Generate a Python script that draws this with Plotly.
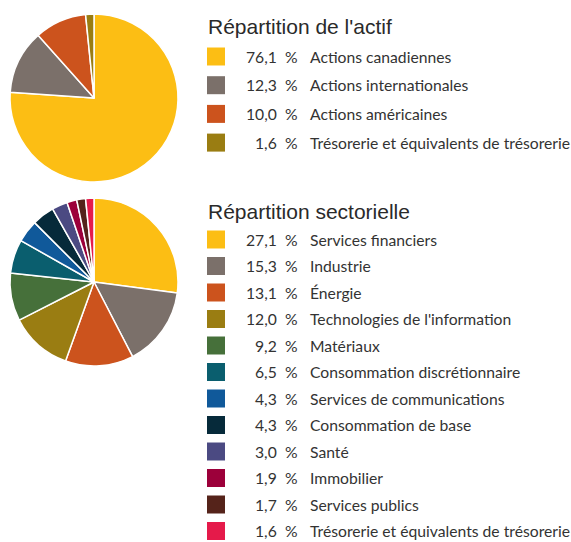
import plotly.graph_objects as go

# ---- data ----
actif_title = "Répartition de l'actif"
actif_labels = ["Actions canadiennes", "Actions internationales",
                "Actions américaines", "Trésorerie et équivalents de trésorerie"]
actif_values = [76.1, 12.3, 10.0, 1.6]
actif_colors = ["#FCBE14", "#7B706A", "#CC531D", "#9A7D12"]

secteur_title = "Répartition sectorielle"
secteur_labels = ["Services financiers", "Industrie", "Énergie",
                  "Technologies de l'information", "Matériaux",
                  "Consommation discrétionnaire", "Services de communications",
                  "Consommation de base", "Santé", "Immobilier",
                  "Services publics", "Trésorerie et équivalents de trésorerie"]
secteur_values = [27.1, 15.3, 13.1, 12.0, 9.2, 6.5, 4.3, 4.3, 3.0, 1.9, 1.7, 1.6]
secteur_colors = ["#FCBE14", "#7B706A", "#CC531D", "#9A7D12", "#46703A",
                  "#0A5E6E", "#10599A", "#062A3A", "#4B4A82", "#9C003A",
                  "#55231A", "#E51A4A"]

W, H = 571, 542
LABEL_FONT = "Lato, sans-serif"
TITLE_FONT = "Liberation Sans, Arial, sans-serif"
TXT = "#333333"
LS = 15.7


def dom_x(l, r):
    return [l / W, r / W]


def dom_y(t, b):
    return [1 - b / H, 1 - t / H]


def fmt(v):
    return f"{v:.1f}".replace(".", ",")


fig = go.Figure()

blocks = [
    dict(title=actif_title, labels=actif_labels, values=actif_values,
         colors=actif_colors, pie_top=14, pie_bot=182,
         title_y=26.5, row0=56.5, step=28.7),
    dict(title=secteur_title, labels=secteur_labels, values=secteur_values,
         colors=secteur_colors, pie_top=198, pie_bot=366,
         title_y=211, row0=239.5, step=26.5),
]

annotations = []
for b in blocks:
    fig.add_trace(go.Pie(
        values=b["values"], labels=b["labels"], sort=False,
        direction="clockwise", rotation=0, textinfo="none",
        marker=dict(colors=b["colors"], line=dict(color="white", width=1.5)),
        domain=dict(x=dom_x(10, 178), y=dom_y(b["pie_top"], b["pie_bot"])),
        showlegend=False, hoverinfo="label+value",
    ))
    ys = [b["row0"] + i * b["step"] for i in range(len(b["values"]))]
    fig.add_trace(go.Scatter(
        x=[216] * len(ys), y=ys, mode="markers",
        marker=dict(symbol="square", size=18, color=b["colors"],
                    line=dict(width=0)),
        showlegend=False, hoverinfo="skip", xaxis="x", yaxis="y",
    ))
    annotations.append(dict(
        x=206, y=b["title_y"], xref="x", yref="y", text=b["title"],
        showarrow=False, xanchor="left", yanchor="middle",
        font=dict(family=TITLE_FONT, size=21, color="#2a2a2a")))
    for y, v, lab in zip(ys, b["values"], b["labels"]):
        annotations.append(dict(
            x=279, y=y, xref="x", yref="y", text=fmt(v), showarrow=False,
            xanchor="right", yanchor="middle",
            font=dict(family=LABEL_FONT, size=LS, color=TXT)))
        annotations.append(dict(
            x=291.5, y=y, xref="x", yref="y", text="%", showarrow=False,
            xanchor="center", yanchor="middle",
            font=dict(family=LABEL_FONT, size=LS, color=TXT)))
        annotations.append(dict(
            x=308, y=y, xref="x", yref="y", text=lab, showarrow=False,
            xanchor="left", yanchor="middle",
            font=dict(family=LABEL_FONT, size=LS, color=TXT)))

fig.update_layout(
    width=W, height=H, margin=dict(l=0, r=0, t=0, b=0),
    paper_bgcolor="white", plot_bgcolor="rgba(0,0,0,0)",
    xaxis=dict(range=[0, W], visible=False, fixedrange=True, domain=[0, 1]),
    yaxis=dict(range=[H, 0], visible=False, fixedrange=True, domain=[0, 1]),
    annotations=annotations,
)

fig.write_html("out.html",
               config={"displayModeBar": False},
               post_script="document.body.style.margin='0';"
                           "document.body.style.overflow='hidden';")
